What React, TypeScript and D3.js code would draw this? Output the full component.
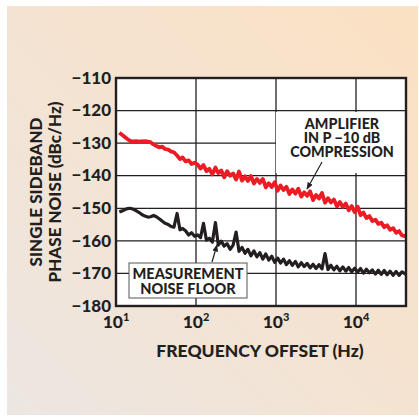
import { line, scaleLinear, scaleLog } from "d3";

const offsetsHz = [
  11, 12, 13, 14, 15, 16.5, 18, 19.5, 21, 23, 25, 27, 29.5, 32, 35, 38, 41, 45, 49, 53,
  58, 63, 68, 74, 81, 88, 96, 105, 114, 124, 135, 147, 160, 175, 190, 207, 225, 245, 267, 291,
  317, 345, 376, 410, 446, 486, 530, 577, 628, 684, 745, 812, 884, 963, 1050, 1140, 1240, 1350,
  1470, 1600, 1750, 1900, 2070, 2250, 2450, 2670, 2910, 3170, 3450, 3760, 4100, 4460, 4860,
  5300, 5770, 6280, 6840, 7450, 8120, 8840, 9630, 10500, 11400, 12400, 13500, 14700, 16000,
  17500, 19000, 20700, 22500, 24500, 26700, 29100, 31700, 34500, 37600, 42170
];

const amplifierDbc = [
  -126.8, -127.5, -128.2, -128.8, -129.3, -129.5, -129.4, -129.5, -129.5, -129.4, -129.5,
  -129.7, -130.4, -130.9, -131.3, -131.1, -131.8, -132.0, -132.6, -132.8, -133.8, -134.9,
  -134.4, -135.6, -135.3, -136.4, -136.0, -136.6, -137.8, -136.7, -138.6, -137.9, -139.6,
  -137.5, -139.2, -138.4, -140.5, -138.6, -140.0, -139.3, -141.2, -138.7, -141.5, -140.2,
  -141.6, -140.1, -142.4, -141.0, -142.2, -141.0, -143.6, -142.3, -143.5, -142.0, -144.6,
  -143.0, -144.4, -143.4, -145.6, -144.2, -145.5, -144.0, -146.4, -145.1, -146.2, -144.8,
  -147.5, -145.9, -147.0, -145.3, -148.3, -146.9, -148.2, -147.3, -149.4, -148.1, -149.6,
  -148.5, -150.6, -149.3, -151.2, -149.5, -152.1, -151.3, -153.0, -152.4, -153.9, -153.5,
  -154.8, -154.4, -155.8, -155.2, -156.6, -156.1, -157.5, -157.0, -158.3, -158.6
];

const noiseFloorDbc = [
  -151.1, -150.8, -150.4, -150.1, -150.0, -150.3, -150.8, -151.3, -151.9, -152.4, -152.7,
  -152.6, -152.2, -152.6, -153.3, -154.0, -154.6, -155.0, -155.6, -155.8, -151.6, -156.6,
  -156.2, -156.9, -158.2, -157.5, -158.6, -158.2, -159.0, -154.6, -159.8, -159.2, -160.4,
  -154.4, -161.3, -160.1, -161.6, -160.9, -162.6, -161.3, -157.3, -163.2, -162.0, -163.8,
  -162.6, -164.6, -163.1, -164.9, -163.6, -165.6, -164.0, -165.9, -164.7, -166.6, -165.3,
  -166.8, -165.6, -167.3, -166.1, -167.5, -166.3, -168.0, -166.7, -167.9, -166.9, -168.3,
  -167.2, -168.5, -167.3, -168.6, -163.9, -168.8, -167.5, -168.9, -167.8, -169.2, -168.0,
  -169.3, -168.2, -169.5, -168.4, -169.6, -168.5, -169.9, -168.7, -169.8, -168.9, -170.2,
  -169.0, -170.3, -169.1, -170.4, -169.3, -170.6, -169.4, -170.6, -169.5, -170.3
];

const yTicks = [-110, -120, -130, -140, -150, -160, -170, -180];
const xTicks = [10, 100, 1000, 10000];
const xTickExponents = ["1", "2", "3", "4"];
const yTitleLines = ["SINGLE SIDEBAND", "PHASE NOISE (dBc/Hz)"];
const xTitle = "FREQUENCY OFFSET (Hz)";
const amplifierLabel = ["AMPLIFIER", "IN P \u221210 dB", "COMPRESSION"];
const floorLabel = ["MEASUREMENT", "NOISE FLOOR"];

const width = 419;
const height = 417;
const plot = { left: 116, right: 406, top: 78, bottom: 306 };
const ink = "#231f20";
const red = "#ed1c24";
const font = "Lato, 'Open Sans', sans-serif";

export default function App(): React.JSX.Element {
  const x = scaleLog().domain([10, 42170]).range([plot.left, plot.right]);
  const y = scaleLinear().domain([-180, -110]).range([plot.bottom, plot.top]);
  const trace = line<number>()
    .x((_, i) => x(offsetsHz[i]))
    .y((d) => y(d));

  return (
    <svg
      width={width}
      height={height}
      style={{ position: "absolute", left: 0, top: 0, fontFamily: font }}
    >
      <defs>
        <linearGradient id="panel" x1="0" y1="1" x2="1" y2="0">
          <stop offset="0" stopColor="#ece6e2" />
          <stop offset="0.55" stopColor="#f5e3d0" />
          <stop offset="1" stopColor="#fbe1c3" />
        </linearGradient>
        <clipPath id="plot-clip">
          <rect x={plot.left} y={plot.top} width={plot.right - plot.left} height={plot.bottom - plot.top} />
        </clipPath>
        <marker id="arrow" viewBox="0 0 10 10" refX="9" refY="5" markerWidth="6" markerHeight="6" orient="auto">
          <path d="M0,1 L10,5 L0,9 Z" fill={ink} />
        </marker>
      </defs>
      <rect x={7} y={6} width={411} height={409} fill="url(#panel)" />
      <rect
        x={plot.left}
        y={plot.top}
        width={plot.right - plot.left}
        height={plot.bottom - plot.top}
        fill="#fff"
      />
      {yTicks.slice(1, -1).map((t) => (
        <line key={`gy${t}`} x1={plot.left} x2={plot.right} y1={y(t)} y2={y(t)} stroke={ink} strokeWidth={1.3} />
      ))}
      {xTicks.slice(1).map((t) => (
        <line key={`gx${t}`} x1={x(t)} x2={x(t)} y1={plot.top} y2={plot.bottom} stroke={ink} strokeWidth={1.3} />
      ))}
      <rect x={276} y={112} width={plot.right - 277} height={61} fill="#fff" />
      <g clipPath="url(#plot-clip)" fill="none" strokeLinejoin="round">
        <path d={trace(amplifierDbc) ?? ""} stroke={red} strokeWidth={3.8} />
        <path d={trace(noiseFloorDbc) ?? ""} stroke={ink} strokeWidth={3.2} />
      </g>
      <rect
        x={plot.left}
        y={plot.top}
        width={plot.right - plot.left}
        height={plot.bottom - plot.top}
        fill="none"
        stroke={ink}
        strokeWidth={2.4}
      />

      {yTicks.map((t) => (
        <text
          key={`ty${t}`}
          x={plot.left - 5}
          y={y(t)}
          dy="0.34em"
          textAnchor="end"
          fontSize={17}
          fontWeight={900}
          fill={ink}
        >
          {`\u2212${Math.abs(t)}`}
        </text>
      ))}
      {xTicks.map((t, i) => (
        <text key={`tx${t}`} x={x(t)} y={328} textAnchor="middle" fontSize={17.5} fontWeight={900} fill={ink}>
          10
          <tspan dy={-7} fontSize={11}>
            {xTickExponents[i]}
          </tspan>
        </text>
      ))}
      <text x={260} y={357} textAnchor="middle" fontSize={17.5} fontWeight={900} fill={ink}>
        {xTitle}
      </text>
      {yTitleLines.map((lineText, i) => (
        <text
          key={lineText}
          transform={`translate(${42 + i * 19},${(plot.top + plot.bottom) / 2}) rotate(-90)`}
          textAnchor="middle"
          fontSize={17}
          fontWeight={900}
          fill={ink}
        >
          {lineText}
        </text>
      ))}

      {amplifierLabel.map((lineText, i) => (
        <text key={lineText} x={342} y={128.5 + i * 14.3} textAnchor="middle" fontSize={14.3} fontWeight={900} fill={ink}>
          {lineText}
        </text>
      ))}
      <line x1={322} y1={162} x2={307} y2={189} stroke={ink} strokeWidth={1.2} markerEnd="url(#arrow)" />

      <rect x={129} y={263} width={118} height={35} fill="#fff" stroke="#555" strokeWidth={1} />
      {floorLabel.map((lineText, i) => (
        <text key={lineText} x={188} y={279 + i * 15} textAnchor="middle" fontSize={14.5} fontWeight={900} fill={ink}>
          {lineText}
        </text>
      ))}
      <line x1={212} y1={262} x2={217} y2={245} stroke={ink} strokeWidth={1.2} markerEnd="url(#arrow)" />
    </svg>
  );
}
